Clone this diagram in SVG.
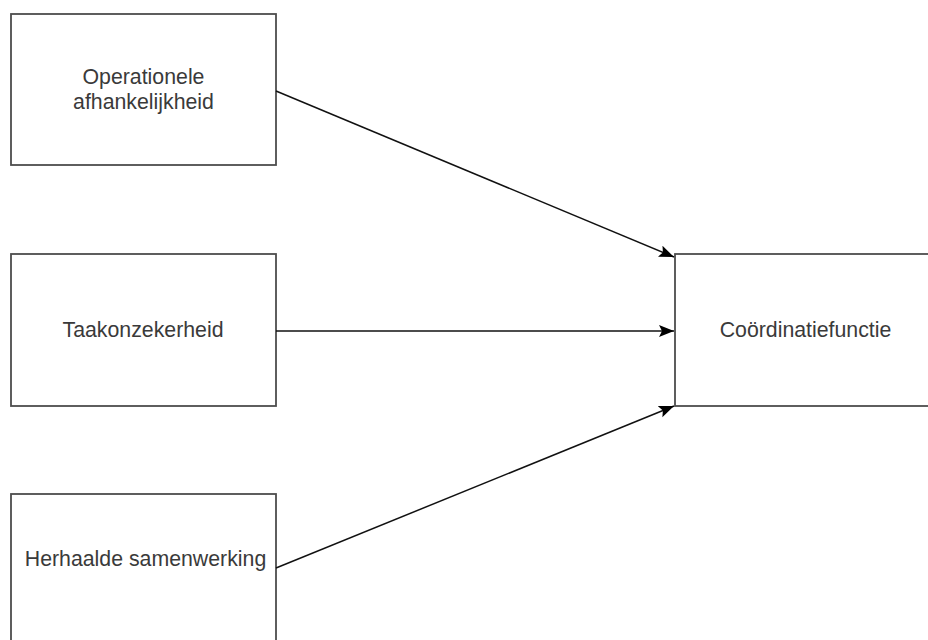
<svg xmlns="http://www.w3.org/2000/svg" width="928" height="640" viewBox="0 0 928 640">
<style>
.box{fill:#fff;stroke:#4d4d4d;stroke-width:1.8}
.lbl{font-family:"Liberation Sans",Arial,sans-serif;font-size:21.3px;fill:#3a3a3a;text-anchor:middle}
.edge{stroke:#111;stroke-width:1.5;fill:none;marker-end:url(#ah)}
</style>
<defs>
<marker id="ah" markerWidth="16" markerHeight="13" refX="15" refY="6" orient="auto" markerUnits="userSpaceOnUse">
<path d="M0,0 L15,6 L0,12 L3,6 Z" fill="#000"/>
</marker>
</defs>
<rect width="928" height="640" fill="#fff"/>
<g id="n1"><rect class="box" x="11" y="14" width="265" height="151"/>
<text class="lbl" x="143.5" y="84">Operationele</text>
<text class="lbl" x="143.5" y="109">afhankelijkheid</text></g>
<g id="n2"><rect class="box" x="11" y="254" width="265" height="152"/>
<text class="lbl" x="143" y="337">Taakonzekerheid</text></g>
<g id="n3"><rect class="box" x="11" y="494" width="265" height="152"/>
<text class="lbl" x="145.5" y="566">Herhaalde samenwerking</text></g>
<g id="n4"><rect class="box" x="675" y="254" width="262" height="152"/>
<text class="lbl" x="805.5" y="337">Coördinatiefunctie</text></g>
<g id="edges">
<line class="edge" x1="276" y1="91" x2="674" y2="257"/>
<line class="edge" x1="276" y1="331" x2="674" y2="331"/>
<line class="edge" x1="276" y1="568" x2="674" y2="406"/>
</g>
</svg>
